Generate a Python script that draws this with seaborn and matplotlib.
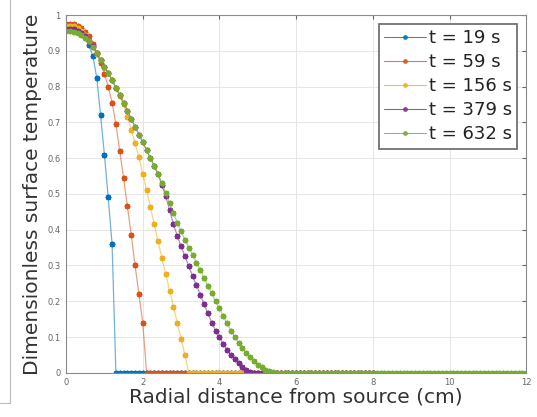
import numpy as np
import pandas as pd
import matplotlib
matplotlib.use("Agg")
import matplotlib.pyplot as plt
import seaborn as sns
from matplotlib.lines import Line2D

# grid spacing of the radial samples (cm)
dx = 0.1

labels = ["t = 19 s", "t = 59 s", "t = 156 s", "t = 379 s", "t = 632 s"]
colors = ["#0072BD", "#D95319", "#EDB120", "#7E2F8E", "#77AC30"]
x_end = [8.0, 8.0, 8.0, 8.0, 12.0]

# non-zero part of each profile (one value per dx)
y_19 = [0.970, 0.970, 0.968, 0.963, 0.955, 0.940, 0.915, 0.885, 0.825, 0.720,
        0.610, 0.490, 0.360]
y_59 = [0.975, 0.975, 0.974, 0.970, 0.963, 0.953, 0.940, 0.920, 0.895, 0.865,
        0.835, 0.800, 0.755, 0.695, 0.620, 0.545, 0.465, 0.385, 0.300, 0.220,
        0.140]
y_156 = [0.970, 0.970, 0.968, 0.963, 0.955, 0.943, 0.928, 0.910, 0.892, 0.873,
         0.855, 0.837, 0.818, 0.797, 0.775, 0.750, 0.715, 0.680, 0.643, 0.602,
         0.555, 0.510, 0.463, 0.415, 0.367, 0.320, 0.275, 0.230, 0.185, 0.140,
         0.095, 0.050]
y_379 = [0.962, 0.962, 0.960, 0.956, 0.950, 0.941, 0.928, 0.912, 0.894, 0.874,
         0.855, 0.837, 0.818, 0.797, 0.776, 0.755, 0.733, 0.710, 0.688, 0.666,
         0.645, 0.622, 0.600, 0.578, 0.555, 0.525, 0.493, 0.455, 0.415, 0.383,
         0.353, 0.326, 0.298, 0.270, 0.245, 0.218, 0.192, 0.166, 0.140, 0.118,
         0.100, 0.080, 0.064, 0.050, 0.038, 0.027, 0.016, 0.008, 0.002]
y_632 = [0.955, 0.955, 0.953, 0.950, 0.945, 0.937, 0.926, 0.911, 0.894, 0.875,
         0.856, 0.837, 0.818, 0.797, 0.776, 0.755, 0.733, 0.710, 0.688, 0.666,
         0.645, 0.622, 0.600, 0.578, 0.555, 0.530, 0.503, 0.475, 0.448, 0.420,
         0.395, 0.372, 0.350, 0.330, 0.308, 0.288, 0.265, 0.243, 0.222, 0.200,
         0.180, 0.158, 0.138, 0.118, 0.100, 0.083, 0.068, 0.055, 0.043, 0.032,
         0.023, 0.015, 0.009, 0.005, 0.002]

profiles = [y_19, y_59, y_156, y_379, y_632]

sns.set_style("white")
plt.rcParams["font.family"] = ["DejaVu Sans"]

fig = plt.figure(figsize=(5.37, 4.17), dpi=100)
ax = fig.add_axes([0.123, 0.106, 0.857, 0.858])

mk = (8, 2, 0)  # asterisk like MATLAB '*'
handles = []
for lab, col, ys, xe in zip(labels, colors, profiles, x_end):
    n = int(round(xe / dx)) + 1
    y = list(ys) + [0.0] * (n - len(ys))
    x = np.arange(n) * dx
    df = pd.DataFrame({"r": x, "T": y})
    # pale connecting line
    sns.lineplot(data=df, x="r", y="T", ax=ax, color=col, linewidth=0.9,
                 alpha=0.55, legend=False)
    # sample markers
    sns.lineplot(data=df, x="r", y="T", ax=ax, color=col, linestyle="none",
                 marker=mk, markersize=4, markeredgewidth=1.2,
                 markeredgecolor=col, legend=False)
    handles.append(Line2D([], [], color=col, linewidth=0.8, alpha=0.8,
                          marker="o", markersize=2.5, markeredgecolor=col))

ax.set_xlim(0, 12)
ax.set_ylim(0, 1)
ax.set_xticks(np.arange(0, 13, 2))
ax.set_yticks(np.round(np.arange(0, 1.01, 0.1), 1))
ax.set_xticklabels([str(v) for v in range(0, 13, 2)])
ax.set_yticklabels(["0"] + [f"{v:.1f}" for v in np.arange(0.1, 0.95, 0.1)] + ["1"])
ax.grid(True, color="#e6e6e6", linewidth=0.7)
ax.tick_params(direction="in", length=3, labelsize=6, colors="#666666",
               top=True, right=True, labeltop=False, labelright=False, pad=4)
for s in ax.spines.values():
    s.set_color("#8a8a8a")
    s.set_linewidth(0.8)

ax.set_xlabel("Radial distance from source (cm)", fontsize=14.5, color="#333333", labelpad=0)
ax.set_ylabel("Dimensionless surface temperature", fontsize=14.5, color="#333333", labelpad=4)

leg = ax.legend(handles, labels, loc="upper right", fontsize=13, frameon=True,
                fancybox=False, handlelength=2.3, handletextpad=0.15,
                borderpad=0.3, labelspacing=0.33, borderaxespad=0.5,
                edgecolor="#666666", framealpha=1)
leg.get_frame().set_linewidth(1.2)
for t in leg.get_texts():
    t.set_color("#222222")

# crop border of the original screenshot
fig.add_artist(Line2D([0.019, 0.019], [0.034, 1.0], color="#bbbbbb", linewidth=0.8))
fig.add_artist(Line2D([0.0, 0.019], [0.034, 0.034], color="#bbbbbb", linewidth=0.8))

fig.savefig("out.png", dpi=100)
